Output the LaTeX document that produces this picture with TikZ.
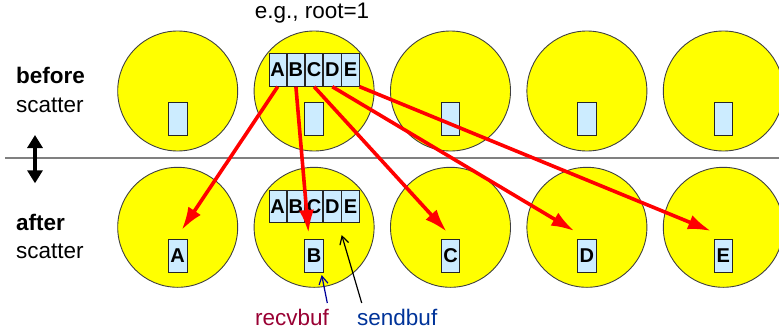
\documentclass[tikz,border=0pt]{standalone}
\usepackage{fontspec}
\setmainfont{Liberation Sans}
\usetikzlibrary{positioning,arrows.meta}
\definecolor{bufblue}{RGB}{204,236,255}
\definecolor{procyellow}{RGB}{255,255,0}
\definecolor{recvred}{RGB}{153,0,51}
\definecolor{sendblue}{RGB}{0,51,153}
\definecolor{notenavy}{RGB}{0,0,153}
\definecolor{rulegray}{RGB}{128,128,128}
\tikzset{
  proc/.style={circle, fill=procyellow, draw=black!75, line width=0.9pt, minimum size=120pt, inner sep=0pt},
  buf-box/.style={rectangle, fill=bufblue, draw=black!85, line width=0.9pt, minimum width=18.5pt, minimum height=32.5pt, inner sep=0pt, font=\fontsize{20}{20}\selectfont\bfseries},
  cell-box/.style={buf-box, minimum width=17.3pt},
  scatter-arrow/.style={draw=red, line width=3.6pt, -{Latex[length=23pt,width=15pt]}},
  note-arrow/.style={line width=1.2pt, -{Straight Barb[length=8pt,width=9pt]}},
  label-text/.style={font=\fontsize{22.5}{22.5}\selectfont, inner sep=0pt},
  label-bold/.style={label-text, font=\fontsize{22.5}{22.5}\selectfont\bfseries}
}

\begin{document}
\begin{tikzpicture}[x=1pt, y=-1pt]
  \useasboundingbox (0,0) rectangle (779,332);
  % Processes, before and after
  \foreach \i in {1,...,5} {
    \node[proc] (top\i) at ({177.7+136.4*(\i-1)}, 91) {};
    \node[proc] (bot\i) at ({177.7+136.4*(\i-1)}, 227.3) {};
  }
  % Empty receive buffers
  \foreach \i in {1,...,5}
    \node[buf-box, below=11pt of top\i.center] (empty\i) {};
  % Filled receive buffers
  \foreach \i/\l in {1/A,2/B,3/C,4/D,5/E}
    \node[buf-box, below=11.7pt of bot\i.center] (recv\l) {\l};
  % Send buffer at the root
  \foreach \r in {top,bot} {
    \node[cell-box, above=4.3pt of \r2.center] (\r C) {C};
    \node[cell-box, left=0pt of \r C] (\r B) {B};
    \node[cell-box, left=0pt of \r B] (\r A) {A};
    \node[cell-box, right=0pt of \r C] (\r D) {D};
    \node[cell-box, right=0pt of \r D] (\r E) {E};
  }
  % Divider
  \draw[rulegray, line width=1.8pt] (5,158.3) -- (779,158.3);
  \coordinate (uptip) at (35,135);
  \coordinate (downtip) at (35,183.3);
  \draw[line width=3.5pt, {Triangle[length=13pt,width=15pt]}-{Triangle[length=13pt,width=15pt]}] (uptip) -- (downtip);
  % Labels
  \node[label-text, anchor=base] (root) at (312,18.5) {e.g., root=1};
  \node[label-bold, anchor=base west] (before) at (16,83) {before};
  \node[label-text, anchor=base west] (beforesc) at (16,112) {scatter};
  \node[label-bold, anchor=base west] (after) at (16,230) {after};
  \node[label-text, anchor=base west] (aftersc) at (16,258.5) {scatter};
  \node[label-text, anchor=base west, text=recvred] (recvlabel) at (255,325) {recvbuf};
  \node[label-text, anchor=base west, text=sendblue] (sendlabel) at (357,325) {sendbuf};
  % Scatter arrows
  \coordinate (tipA) at (181.7,230);
  \coordinate (tipB) at (308.5,233);
  \coordinate (tipC) at (446.7,231.7);
  \coordinate (tipD) at (574.3,231);
  \coordinate (tipE) at (711,231);
  \foreach \l/\a in {A/south,B/south,C/south,D/south,E/south east}
    \draw[scatter-arrow] (top\l.\a) -- (tip\l);
  % Buffer notes
  \coordinate (recvtail) at (327.3,303);
  \coordinate (recvhead) at (321.7,275);
  \coordinate (sendtail) at (361.7,303);
  \coordinate (sendhead) at (341.7,235);
  \draw[note-arrow, notenavy] (recvtail) -- (recvhead);
  \draw[note-arrow, black] (sendtail) -- (sendhead);
\end{tikzpicture}
\end{document}
